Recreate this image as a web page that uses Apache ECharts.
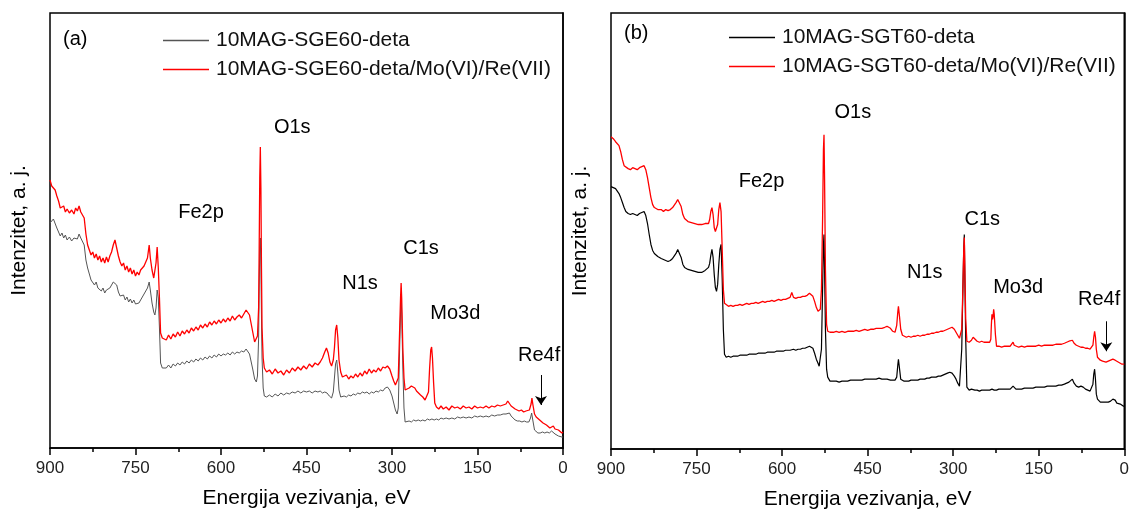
<!DOCTYPE html>
<html><head><meta charset="utf-8">
<script src="https://cdn.jsdelivr.net/npm/echarts@6/dist/echarts.min.js"></script>
<style>html,body{margin:0;padding:0;background:#fff}#c{width:1132px;height:515px}</style>
</head><body><div id="c"></div>
<script>
const FONT = 'Arial, "Liberation Sans", sans-serif';
const xTicks = [900, 750, 600, 450, 300, 150, 0];
const namesA = ['10MAG-SGE60-deta', '10MAG-SGE60-deta/Mo(VI)/Re(VII)'];
const namesB = ['10MAG-SGT60-deta', '10MAG-SGT60-deta/Mo(VI)/Re(VII)'];
const peaksA = [['O1s',475,321],['Fe2p',635,236],['C1s',249,200],['N1s',356,165],['Mo3d',189,135],['Re4f',42,93]];
const peaksB = [['O1s',476,337],['Fe2p',636,268],['C1s',249,230],['N1s',350,177],['Mo3d',186,162],['Re4f',44,150]];
const arrowA = [[38.6,73],[38.6,43]];
const arrowB = [[31.5,128],[31.5,98]];

const aGray = [[900,225],[897,226],[894,229],[891,228],[888,220],[885,216],[882,212],[879,215],[876,210],[873,213],[870,208],[866,211],[862,207],[858,210],[855,212],[852,209],[849,214],[846,210],[843,208],[840,203],[837,188],[834,180],[831,174],[828,168],[825,170],[822,163],[819,166],[816,160],[813,162],[810,157],[807,160],[804,155],[801,158],[798,156],[795,160],[792,162],[789,166],[786,168],[783,163],[780,156],[777,152],[774,150],[771,153],[768,148],[765,151],[762,146],[759,149],[756,145],[753,148],[750,144],[747,146],[744,145],[741,148],[738,150],[735,154],[732,156],[729,160],[726,166],[724,158],[721,145],[718,136],[716,133],[714,140],[712,158],[710,150],[708,120],[706,85],[703,80],[700,82],[696,80],[692,83],[688,80],[684,84],[680,82],[676,85],[672,83],[668,86],[664,84],[660,87],[656,85],[652,88],[648,86],[644,89],[640,87],[636,90],[632,88],[628,91],[624,89],[620,92],[616,90],[612,93],[608,91],[604,94],[600,92],[596,94],[592,93],[588,95],[584,93],[580,96],[576,94],[572,96],[568,95],[564,97],[560,96],[556,99],[553,98],[550,94],[547,86],[544,78],[541,69],[538,66],[536,72],[534,110],[533,160],[532,200],[531,210],[530,180],[529,130],[528,90],[526,60],[524,52],[520,51],[515,53],[510,51],[505,54],[500,52],[495,55],[490,53],[485,55],[480,54],[475,56],[470,55],[465,57],[460,55],[455,57],[450,56],[445,57],[440,55],[435,57],[430,56],[426,57],[422,55],[418,56],[414,55],[410,52],[406,50],[403,56],[401,70],[399,84],[397,88],[395,75],[393,58],[390,51],[387,50],[384,52],[380,51],[376,53],[372,52],[368,54],[364,53],[360,55],[356,54],[352,56],[348,55],[344,56],[340,54],[336,56],[332,55],[328,57],[324,56],[320,58],[316,57],[312,60],[308,61],[304,58],[300,52],[297,45],[294,38],[291,34],[289,40],[287,90],[285,135],[284,151],[283,135],[281,80],[279,40],[277,26],[274,25],[270,27],[266,26],[262,28],[258,27],[254,28],[250,27],[246,28],[242,27],[238,29],[234,28],[230,29],[226,28],[222,29],[218,28],[214,30],[210,29],[205,30],[200,29],[195,30],[190,29],[185,31],[180,30],[175,31],[170,30],[165,31],[160,30],[155,32],[150,31],[145,32],[140,31],[135,32],[130,31],[125,33],[120,32],[115,33],[110,33],[105,34],[100,34],[97,36],[94,35],[91,32],[88,30],[84,28],[80,27],[76,27],[72,26],[68,27],[64,26],[60,26],[57,30],[55,35],[53,28],[50,18],[47,16],[44,15],[40,15],[36,16],[32,15],[28,16],[24,15],[20,17],[17,16],[14,14],[11,12],[8,12],[5,11],[2,11],[0,11]];

const aRed = [[900,268],[897,262],[894,264],[891,258],[888,252],[885,247],[882,240],[879,238],[876,242],[873,236],[870,239],[866,235],[862,238],[858,234],[855,240],[852,237],[849,242],[846,236],[843,238],[840,230],[837,214],[834,203],[831,198],[828,193],[825,196],[822,190],[819,194],[816,188],[813,192],[810,186],[807,190],[804,185],[801,191],[798,186],[795,192],[792,196],[789,203],[786,208],[783,200],[780,192],[777,186],[774,182],[771,185],[768,178],[765,182],[762,176],[759,180],[756,174],[753,178],[750,172],[747,176],[744,173],[741,178],[738,176],[735,182],[732,180],[729,190],[726,203],[724,190],[721,178],[718,170],[716,172],[714,185],[712,201],[710,180],[708,150],[706,115],[703,110],[700,112],[696,108],[692,113],[688,109],[684,114],[680,111],[676,116],[672,112],[668,117],[664,114],[660,118],[656,115],[652,120],[648,117],[644,121],[640,118],[636,123],[632,120],[628,124],[624,121],[620,126],[616,123],[612,127],[608,124],[604,128],[600,125],[596,129],[592,126],[588,130],[584,127],[580,132],[576,128],[572,131],[568,133],[564,130],[560,134],[556,138],[553,138],[550,133],[547,124],[544,115],[541,106],[538,105],[536,112],[534,140],[533,200],[532,270],[531,301],[530,260],[529,180],[528,120],[526,90],[524,80],[520,76],[515,78],[510,74],[505,79],[500,75],[495,77],[490,73],[485,78],[480,75],[475,80],[470,77],[465,81],[460,78],[455,82],[450,79],[445,84],[440,81],[435,85],[430,83],[426,86],[422,90],[418,96],[415,100],[412,95],[409,86],[406,82],[403,88],[401,100],[399,118],[397,123],[395,110],[393,88],[390,76],[387,71],[384,70],[380,73],[376,69],[372,72],[368,70],[364,74],[360,71],[356,75],[352,72],[348,77],[344,74],[340,79],[336,75],[332,78],[328,76],[324,80],[320,77],[316,81],[312,80],[308,82],[304,79],[300,72],[297,67],[294,63],[291,61],[289,70],[287,110],[285,150],[284,165],[283,150],[281,100],[279,70],[277,58],[274,58],[270,60],[266,62],[263,64],[260,60],[257,57],[254,55],[250,53],[246,51],[242,48],[239,48],[236,56],[234,80],[232,98],[230.5,101],[229,90],[227,65],[225,45],[222,41],[218,39],[214,42],[210,39],[205,41],[200,38],[195,42],[190,40],[185,41],[180,39],[175,42],[170,40],[165,41],[160,39],[155,42],[150,40],[145,41],[140,40],[135,42],[130,40],[125,42],[120,41],[115,43],[110,42],[105,43],[100,44],[97,47],[94,45],[91,42],[88,40],[84,39],[81,38],[77,37],[73,38],[69,36],[65,37],[62,36],[59,38],[56,44],[54.5,50],[53,44],[50,34],[47,31],[44,30],[41,28],[38,27],[35,25],[32,24],[29,23],[26,21],[23,20],[20,21],[17,22],[14,19],[11,17],[8,18],[5,17],[2,15],[0,16]];

const bBlack = [[900,263],[898,262],[896,262],[894,263],[892,261],[889,259],[886,256],[883,252],[880,247],[877,242],[874,238],[870,236],[866,235],[862,236],[858,235],[854,234],[850,236],[846,237],[842,238],[839,234],[836,226],[833,215],[830,205],[827,199],[824,196],[821,194],[818,193],[815,192],[812,191],[808,190],[804,189],[800,188],[796,189],[792,191],[789,193],[786,196],[783,200],[780,199],[777,192],[774,185],[771,182],[768,181],[765,180],[762,179],[759,179],[756,178],[753,178],[750,177],[747,177],[744,176],[741,177],[738,178],[735,179],[732,180],[729,182],[727,186],[725,194],[723,200],[721,192],[719,175],[717,162],[715,158],[713,165],[711,185],[709,200],[707,205],[705,170],[703,120],[701,95],[698,92],[694,93],[690,92],[686,93],[682,93],[678,93],[674,94],[670,94],[666,94],[662,94],[658,95],[654,95],[650,95],[646,95],[642,96],[638,96],[634,96],[630,96],[626,97],[622,97],[618,97],[614,97],[610,98],[606,98],[602,98],[598,98],[594,99],[590,99],[586,99],[583,100],[580,100],[576,99],[572,100],[568,100],[564,101],[560,101],[556,102],[552,103],[549,104],[546,101],[543,96],[540,90],[537,86],[535,83],[533,84],[531,100],[529,160],[527.5,205],[526.5,215],[525.5,180],[524,120],[522,80],[520,72],[516,68],[510,68],[505,68],[500,67],[495,68],[490,68],[485,68],[480,69],[475,69],[470,69],[465,69],[460,69],[455,70],[450,70],[445,70],[440,70],[435,70],[430,71],[425,70],[420,70],[416,70],[413,70],[410,69],[406,69],[402,69],[399,72],[397,85],[396,90],[394,80],[392,70],[389,68],[386,68],[382,68],[378,68],[374,69],[370,69],[366,69],[362,69],[358,70],[354,70],[350,70],[346,71],[342,71],[338,72],[334,72],[330,72],[326,73],[322,73],[318,74],[314,75],[310,76],[306,77],[302,76],[298,73],[295,70],[292,66],[289,63],[287,64],[285,100],[283,160],[281.5,200],[280.5,215],[279.5,170],[278,110],[276,62],[272,59],[268,60],[265,61],[262,59],[258,59],[254,58],[250,59],[246,59],[242,59],[239,59],[236,59],[234,60],[232,60],[230,60],[228,59],[226,60],[224,59],[220,60],[215,60],[210,60],[205,60],[200,60],[197,61],[195,63],[193,61],[190,60],[185,60],[180,60],[175,61],[170,61],[165,61],[160,61],[155,62],[150,62],[145,62],[140,62],[135,63],[130,63],[125,63],[120,63],[115,64],[110,64],[105,65],[101,66],[97,67],[94,69],[91,70],[88,66],[84,63],[80,62],[76,63],[72,62],[68,60],[64,59],[60,58],[57,59],[55,65],[53.5,75],[52,80],[50.5,70],[49,55],[47,50],[45,48],[42,47],[38,47],[35,47],[32,47],[28,47],[24,48],[20,50],[18,52],[16,49],[13,46],[10,45],[7,45],[4,44],[2,43],[0,43]];

const bRed = [[900,313],[898,312],[896,311],[894,309],[892,308],[889,307],[886,304],[883,298],[880,290],[877,284],[874,282],[870,281],[866,280],[862,282],[858,281],[854,280],[850,282],[846,283],[842,284],[839,280],[836,272],[833,262],[830,252],[827,245],[824,242],[821,241],[818,240],[815,239],[812,240],[808,238],[804,240],[800,239],[796,240],[792,242],[789,244],[786,247],[783,250],[780,249],[777,243],[774,235],[771,231],[768,230],[765,228],[762,226],[759,227],[756,225],[753,226],[750,224],[747,225],[744,223],[741,225],[738,224],[735,226],[732,227],[729,226],[727,230],[725,238],[723,242],[721,235],[719,222],[717,218],[715,217],[713,225],[711,240],[709,247],[707,238],[705,200],[703,160],[701,146],[698,144],[694,143],[690,144],[686,143],[682,144],[678,144],[674,145],[670,144],[666,145],[662,146],[658,145],[654,146],[650,146],[646,147],[642,146],[638,147],[634,148],[630,147],[626,148],[622,148],[618,149],[614,148],[610,149],[606,150],[602,149],[598,150],[594,150],[590,151],[586,152],[583,157],[580,152],[576,151],[572,152],[568,152],[564,153],[560,153],[556,154],[552,156],[549,157],[546,153],[543,148],[540,142],[537,138],[535,137],[533,140],[531,160],[529,230],[527.5,300],[526.5,315],[525.5,270],[524,180],[522,125],[520,118],[516,117],[510,117],[505,118],[500,117],[495,118],[490,117],[485,118],[480,118],[475,118],[470,119],[465,118],[460,119],[455,120],[450,119],[445,120],[440,120],[435,121],[430,121],[425,121],[420,122],[416,123],[413,124],[410,121],[406,118],[402,117],[399,124],[397,138],[396,143],[394,132],[392,120],[389,114],[386,113],[382,112],[378,113],[374,112],[370,113],[366,113],[362,114],[358,113],[354,114],[350,114],[346,115],[342,115],[338,116],[334,116],[330,117],[326,117],[322,118],[318,118],[314,119],[310,120],[306,121],[302,122],[298,120],[295,117],[292,114],[289,111],[287,110],[285,120],[283,160],[281.5,200],[280.5,212],[279.5,180],[278,130],[276,108],[272,107],[268,109],[265,112],[262,110],[258,108],[254,107],[250,108],[246,107],[242,107],[239,106],[236,107],[234,110],[233,125],[232,135],[231,130],[230,133],[229,140],[228,135],[226,115],[224,103],[220,103],[215,102],[210,103],[205,103],[200,103],[197,104],[195,107],[193,104],[190,102],[185,102],[180,103],[175,102],[170,103],[165,103],[160,103],[155,103],[150,104],[145,103],[140,104],[135,104],[130,104],[125,104],[120,105],[115,105],[110,105],[105,106],[101,107],[97,108],[94,110],[91,109],[88,106],[84,104],[80,103],[76,102],[72,102],[68,101],[64,101],[60,100],[57,101],[55,104],[53.5,112],[52,118],[50.5,112],[49,100],[47,92],[45,90],[42,89],[38,88],[35,89],[32,87],[28,88],[24,89],[20,90],[18,92],[16,89],[13,87],[10,87],[7,86],[4,85],[2,84],[0,85]];

const chart = echarts.init(document.getElementById('c'), null, {renderer: 'canvas'});

function xAx(gi) {
  return {
    gridIndex: gi, type: 'value', min: 0, max: 900, interval: 150, inverse: true,
    name: 'Energija vezivanja, eV', nameLocation: 'middle', nameGap: 40,
    nameTextStyle: {fontFamily: FONT, fontSize: 21, color: '#000'},
    axisLine: {show: true, onZero: false, lineStyle: {color: '#000', width: 1.5}},
    axisTick: {show: true, length: 7, lineStyle: {color: '#000', width: 1.5}},
    minorTick: {show: true, splitNumber: 2, length: 4, lineStyle: {color: '#000', width: 1.5}},
    axisLabel: {fontFamily: FONT, fontSize: 17, color: '#222', margin: 12,
      formatter: v => xTicks.includes(v) ? String(v) : ''},
    splitLine: {show: false}
  };
}
function yAx(gi, max) {
  return {
    gridIndex: gi, type: 'value', min: 0, max: max,
    name: 'Intenzitet, a. j.', nameLocation: 'middle', nameGap: 20,
    nameTextStyle: {fontFamily: FONT, fontSize: 21, color: '#000'},
    axisLine: {show: true, lineStyle: {color: '#000', width: 1.5}},
    axisTick: {show: false}, axisLabel: {show: false}, splitLine: {show: false}
  };
}
function line(name, data, gi, color, w, extra) {
  return Object.assign({
    name, type: 'line', data, xAxisIndex: gi, yAxisIndex: gi,
    symbol: 'none', showSymbol: false, silent: true,
    lineStyle: {color, width: w}, itemStyle: {color}
  }, extra || {});
}
function arrow(pts) {
  return {
    silent: true, symbol: ['none', 'arrow'], symbolSize: 9,
    label: {show: false}, lineStyle: {color: '#000', width: 1, type: 'solid'},
    itemStyle: {color: '#000'},
    data: [[{coord: pts[0]}, {coord: pts[1]}]]
  };
}
function legend(names, left, top) {
  return {
    data: names, left, top, orient: 'vertical', itemWidth: 46, itemHeight: 1.5, itemGap: 8,
    icon: 'rect', selectedMode: false,
    textStyle: {fontFamily: FONT, fontSize: 21, color: '#111', lineHeight: 20, padding: [0, 0, 0, 2]}
  };
}

chart.setOption({
  animation: false,
  backgroundColor: '#fff',
  grid: [
    {left: 50, top: 13, width: 513, height: 435, show: true, borderColor: '#000', borderWidth: 1.5},
    {left: 611, top: 13, width: 514, height: 437, show: true, borderColor: '#000', borderWidth: 1.5}
  ],
  xAxis: [xAx(0), xAx(1)],
  yAxis: [yAx(0, 435), yAx(1, 437)],
  legend: [legend(namesA, 158, 25), legend(namesB, 724, 22)],
  series: [
    line(namesA[0], aGray, 0, '#555555', 1),
    line(namesA[1], aRed, 0, '#ff0000', 1.3, {markLine: arrow(arrowA)}),
    line(namesB[0], bBlack, 1, '#000000', 1.2),
    line(namesB[1], bRed, 1, '#ff0000', 1.3, {markLine: arrow(arrowB)})
  ]
});

const g = [];
function addPeaks(peaks, gi) {
  peaks.forEach(p => {
    const px = chart.convertToPixel({gridIndex: gi}, [p[1], p[2]]);
    g.push({type: 'text', x: px[0], y: px[1], silent: true,
      style: {text: p[0], fontFamily: FONT, fontSize: 20, fill: '#000', align: 'center', verticalAlign: 'middle'}});
  });
}
addPeaks(peaksA, 0);
addPeaks(peaksB, 1);
g.push({type: 'text', x: 63, y: 39, silent: true, style: {text: '(a)', fontFamily: FONT, fontSize: 20, fill: '#000', verticalAlign: 'middle'}});
g.push({type: 'text', x: 624, y: 33, silent: true, style: {text: '(b)', fontFamily: FONT, fontSize: 20, fill: '#000', verticalAlign: 'middle'}});
chart.setOption({graphic: g});
</script>
</body></html>
